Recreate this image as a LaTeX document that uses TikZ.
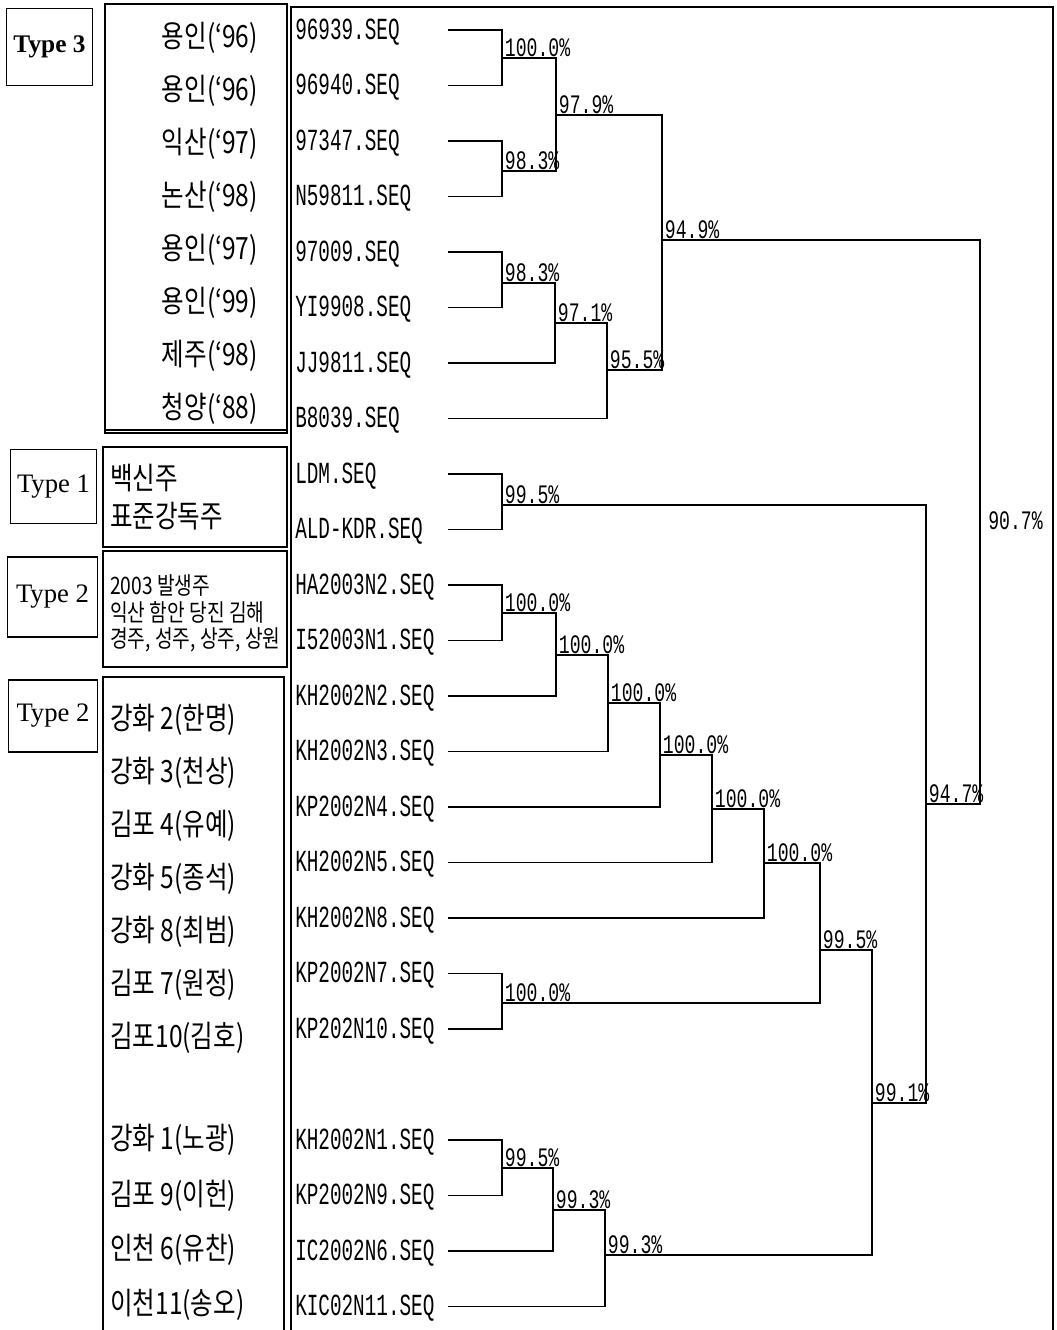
\documentclass[tikz,border=0pt]{standalone}
\usepackage{fontspec}
\usepackage{tikz}
\setmainfont{Liberation Serif}
\newfontfamily\seqfont[FakeStretch=0.63]{Liberation Mono}
\newfontfamily\pctfont[FakeStretch=0.68]{Liberation Mono}
\newfontfamily\korfont[FakeStretch=0.8]{Noto Sans CJK KR}

\begin{document}
\begin{tikzpicture}[x=0.75pt, y=-0.75pt,
    tree/.style={line width=1.1pt},
    frame/.style={line width=0.9pt},
    typebox/.style={draw, line width=0.9pt, inner sep=0pt, font=\fontsize{20}{22}\selectfont},
    seq/.style={anchor=west, inner sep=0pt, font=\seqfont\fontsize{23}{25}\selectfont},
    pct/.style={anchor=base west, inner sep=0pt, xshift=2pt, yshift=1.2pt, font=\pctfont\fontsize{20}{22}\selectfont},
    kor/.style={inner sep=0pt, font=\korfont\fontsize{23}{25}\selectfont}]
    % параметры
    \def\Lx{448}    % начало ветвей
    \def\Dy{55.5}   % шаг строк

    \useasboundingbox (0,0) rectangle (1056,1330);

    % рамки
    \draw[frame] (291,1335) -- (291,7) -- (1053,7) -- (1053,1335);
    \draw[frame] (105,4) rectangle (287,433);
    \draw[frame] (105,430) -- (287,430);
    \draw[frame] (103,447) rectangle (287,547);
    \draw[frame] (103,551) rectangle (287,667);
    \draw[frame] (103,1335) -- (103,677) -- (284,677) -- (284,1335);

    % типы
    \node[typebox, minimum width=65pt, minimum height=58pt, font=\bfseries\fontsize{19}{21}\selectfont] (t3) at (49.5,47) {Type 3};
    \node[typebox, minimum width=65pt, minimum height=55pt] (t1) at (53.5,486.5) {Type 1};
    \node[typebox, minimum width=67pt, minimum height=60pt] (t2a) at (52.5,597) {Type 2};
    \node[typebox, minimum width=67pt, minimum height=54pt] (t2b) at (53,716) {Type 2};

    % названия штаммов
    \foreach \nm [count=\i from 0] in {용인(‘96), 용인(‘96), 익산(‘97), 논산(‘98), 용인(‘97), 용인(‘99), 제주(‘98), 청양(‘88)}
        \node[kor, anchor=east] (k\i) at (258, {38+52.9*\i}) {\nm};
    \node[kor, anchor=west] (v1) at (110,478) {백신주};
    \node[kor, anchor=west] (v2) at (110,516) {표준강독주};
    \node[kor, anchor=west, font=\korfont\fontsize{18}{20}\selectfont] (w1) at (110,585) {2003 발생주};
    \node[kor, anchor=west, font=\korfont\fontsize{18}{20}\selectfont] (w2) at (110,612) {익산 함안 당진 김해};
    \node[kor, anchor=west, font=\korfont\fontsize{18}{20}\selectfont] (w3) at (110,640) {경주, 성주, 상주, 상원};
    \foreach \nm/\yy [count=\i] in {강화 2(한명)/720, 강화 3(천상)/773, 김포 4(유예)/826, 강화 5(종석)/879,
        강화 8(최범)/932, 김포 7(원정)/985, 김포10(김호)/1038, 강화 1(노광)/1140,
        김포 9(이헌)/1196, 인천 6(유찬)/1250, 이천11(송오)/1305}
        \node[kor, anchor=west] (h\i) at (110,\yy) {\nm};

    % листья
    \foreach \lbl/\r in {96939.SEQ/0, 96940.SEQ/1, 97347.SEQ/2, N59811.SEQ/3, 97009.SEQ/4,
        YI9908.SEQ/5, JJ9811.SEQ/6, B8039.SEQ/7, LDM.SEQ/8, ALD-KDR.SEQ/9, HA2003N2.SEQ/10,
        I52003N1.SEQ/11, KH2002N2.SEQ/12, KH2002N3.SEQ/13, KP2002N4.SEQ/14, KH2002N5.SEQ/15,
        KH2002N8.SEQ/16, KP2002N7.SEQ/17, KP202N10.SEQ/18, KH2002N1.SEQ/20, KP2002N9.SEQ/21,
        IC2002N6.SEQ/22, KIC02N11.SEQ/23}
    {
        \node[seq] (s\r) at (295, {32+\Dy*\r}) {\lbl};
        \coordinate (e\r) at (\Lx, {30+\Dy*\r});
    }

    % узлы
    \coordinate (a1) at (502,58);   \coordinate (a2) at (502,171);
    \coordinate (a3) at (556,115);  \coordinate (a4) at (502,283);
    \coordinate (a5) at (555,323);  \coordinate (a6) at (607,370);
    \coordinate (a7) at (662,240);  \coordinate (b1) at (502,505);
    \coordinate (c1) at (502,613);  \coordinate (c2) at (556,655);
    \coordinate (c3) at (608,703);  \coordinate (c4) at (660,755);
    \coordinate (c5) at (712,809);  \coordinate (c6) at (764,863);
    \coordinate (c7) at (502,1003); \coordinate (c8) at (820,950);
    \coordinate (c9) at (872,1103); \coordinate (d1) at (502,1168);
    \coordinate (d2) at (553,1210); \coordinate (d3) at (605,1255);
    \coordinate (r1) at (926,804);  \coordinate (r0) at (980,522);

    % ветви
    \draw[tree] (e0) -| (a1) |- (e1);
    \draw[tree] (e2) -| (a2) |- (e3);
    \draw[tree] (a1) -| (a3) |- (a2);
    \draw[tree] (e4) -| (a4) |- (e5);
    \draw[tree] (a4) -| (a5) |- (e6);
    \draw[tree] (a5) -| (a6) |- (e7);
    \draw[tree] (a3) -| (a7) |- (a6);
    \draw[tree] (e8) -| (b1) |- (e9);
    \draw[tree] (e10) -| (c1) |- (e11);
    \draw[tree] (c1) -| (c2) |- (e12);
    \draw[tree] (c2) -| (c3) |- (e13);
    \draw[tree] (c3) -| (c4) |- (e14);
    \draw[tree] (c4) -| (c5) |- (e15);
    \draw[tree] (c5) -| (c6) |- (e16);
    \draw[tree] (e17) -| (c7) |- (e18);
    \draw[tree] (c6) -| (c8) |- (c7);
    \draw[tree] (e20) -| (d1) |- (e21);
    \draw[tree] (d1) -| (d2) |- (e22);
    \draw[tree] (d2) -| (d3) |- (e23);
    \draw[tree] (c8) -| (c9) |- (d3);
    \draw[tree] (b1) -| (r1) |- (c9);
    \draw[tree] (a7) -| (r0) |- (r1);

    % проценты
    \foreach \n/\v in {a1/100.0, a2/98.3, a3/97.9, a4/98.3, a5/97.1, a6/95.5, a7/94.9,
        b1/99.5, c1/100.0, c2/100.0, c3/100.0, c4/100.0, c5/100.0, c6/100.0, c7/100.0,
        c8/99.5, c9/99.1, d1/99.5, d2/99.3, d3/99.3, r1/94.7}
        \node[pct] (l\n) at (\n) {\v\%};
    \node[pct, anchor=west, yshift=0pt, xshift=4pt] (lr0) at (r0) {90.7\%};
\end{tikzpicture}
\end{document}
